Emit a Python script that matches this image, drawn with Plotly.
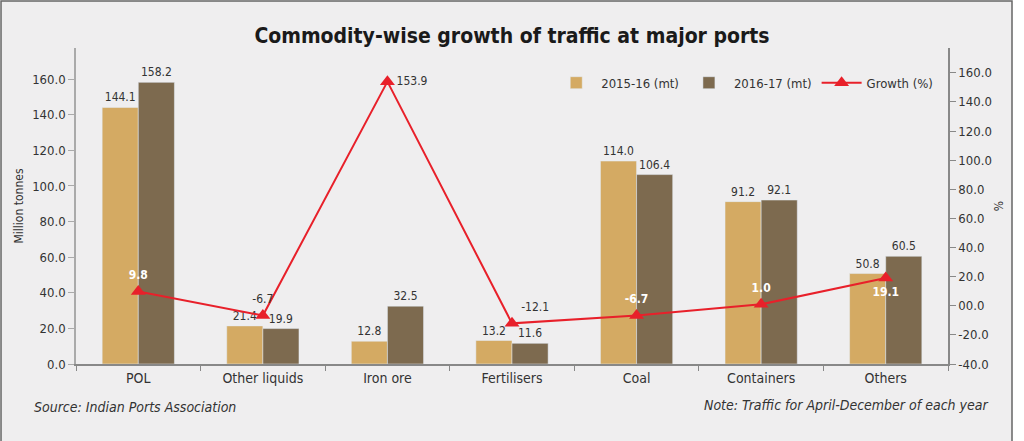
import plotly.graph_objects as go

# Data
commodities = ["POL", "Other liquids", "Iron ore", "Fertilisers", "Coal", "Containers", "Others"]
traffic_1516 = [144.1, 21.4, 12.8, 13.2, 114.0, 91.2, 50.8]
traffic_1617 = [158.2, 19.9, 32.5, 11.6, 106.4, 92.1, 60.5]
growth = [9.8, -6.7, 153.9, -12.1, -6.7, 1.0, 19.1]

right_ticks = [-40, -20, 0, 20, 40, 60, 80, 100, 120, 140, 160]
right_ticktext = ["-40.0", "-20.0", "00.0", "20.0", "40.0", "60.0", "80.0",
                  "100.0", "120.0", "140.0", "160.0"]

# label placement/colour for the growth points
growth_pos = ["top center", "top center", "middle right", "top right",
              "top center", "top center", "bottom center"]
growth_col = ["white", "#333333", "#333333", "#333333", "white", "white", "white"]

FONT = "Liberation Sans Narrow, DejaVu Sans Condensed, Liberation Sans, sans-serif"
BG = "#efeeef"

# white labels sit on the bars and are drawn bold
growth_text = [f"<b>{v:.1f}</b>" if c == "white" else f"{v:.1f}"
               for v, c in zip(growth, growth_col)]

fig = go.Figure()

fig.add_trace(go.Bar(
    x=commodities, y=traffic_1516, name="2015-16 (mt)",
    marker_color="#d4aa63",
    text=[f"{v:.1f}" for v in traffic_1516], textposition="outside",
    textfont=dict(size=12, color="#333333"), cliponaxis=False
))
fig.add_trace(go.Bar(
    x=commodities, y=traffic_1617, name="2016-17 (mt)",
    marker_color="#7d6a4f",
    text=[f"{v:.1f}" for v in traffic_1617], textposition="outside",
    textfont=dict(size=12, color="#333333"), cliponaxis=False
))
fig.add_trace(go.Scatter(
    x=commodities, y=growth, name="Growth (%)", yaxis="y2",
    mode="lines+markers+text",
    line=dict(color="#e8202a", width=2),
    marker=dict(symbol="triangle-up", size=13, color="#e8202a"),
    text=growth_text, textposition=growth_pos,
    textfont=dict(size=12, color=growth_col), cliponaxis=False
))

# background panel with border
fig.add_shape(type="rect", xref="paper", yref="paper",
              x0=-0.086, x1=1.0734, y0=-0.26, y1=1.149,
              fillcolor=BG, line=dict(color="#666666", width=1.5), layer="below")

fig.update_layout(
    width=1024, height=441,
    margin=dict(l=76, r=76, t=48, b=77),
    paper_bgcolor="white", plot_bgcolor=BG,
    font=dict(family=FONT, size=13, color="#333333"),
    barmode="group", bargap=0.42, bargroupgap=0,
    showlegend=True,
    legend=dict(orientation="h", x=0.545, y=0.89, xanchor="left", yanchor="middle",
                bgcolor="rgba(0,0,0,0)", font=dict(size=13),
                traceorder="normal", itemwidth=40),
    xaxis=dict(showline=True, linecolor="#888888", linewidth=1.5,
               ticks="outside", tickson="boundaries", ticklen=5, tickcolor="#888888",
               showgrid=False, tickfont=dict(size=14)),
    yaxis=dict(range=[0, 177.5], tickvals=list(range(0, 161, 20)),
               ticktext=[f"{v:.1f}" for v in range(0, 161, 20)],
               showline=True, linecolor="#aaaaaa", linewidth=1.5,
               ticks="outside", ticklen=6, tickcolor="#aaaaaa",
               showgrid=False, zeroline=False, tickfont=dict(size=13),
               title=dict(text="Million tonnes", font=dict(size=12), standoff=6)),
    yaxis2=dict(overlaying="y", side="right", range=[-40, 177],
                tickvals=right_ticks, ticktext=right_ticktext,
                showline=True, linecolor="#888888", linewidth=1.5,
                ticks="outside", ticklen=6, tickcolor="#888888",
                showgrid=False, zeroline=False, tickfont=dict(size=13),
                title=dict(text="%", font=dict(size=12), standoff=4)),
    title=dict(text="<b>Commodity-wise growth of traffic at major ports</b>",
               x=0.5, xanchor="center", y=0.92, yanchor="middle",
               font=dict(family="DejaVu Sans Condensed, Liberation Sans Narrow, sans-serif",
                         size=21, color="#1a1a1a")),
)

fig.add_annotation(text="<i>Source: Indian Ports Association</i>",
                   xref="paper", yref="paper", x=-0.05, y=-0.135,
                   xanchor="left", yanchor="middle", showarrow=False,
                   font=dict(size=14, color="#333333"))
fig.add_annotation(text="<i>Note: Traffic for April-December of each year</i>",
                   xref="paper", yref="paper", x=1.048, y=-0.13,
                   xanchor="right", yanchor="middle", showarrow=False,
                   font=dict(size=14, color="#333333"))

# drop the default page margin so the figure sits at the window origin
fig.write_html("out.html", config={"displayModeBar": False},
               post_script="document.body.style.margin='0';")
